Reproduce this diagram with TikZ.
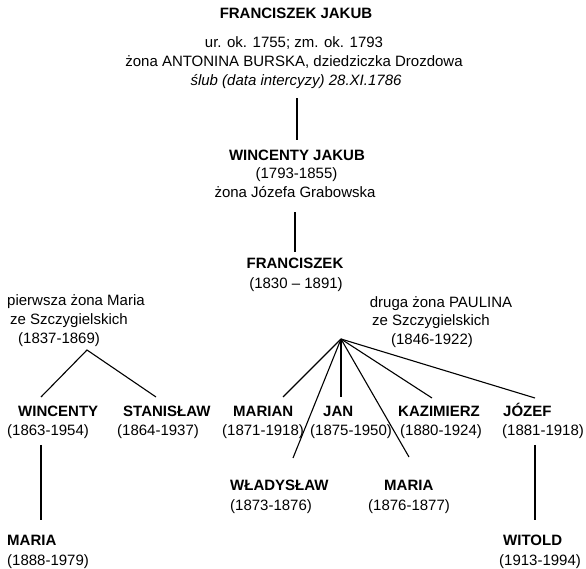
\documentclass[tikz,border=0pt]{standalone}
\usepackage{fontspec}
\setmainfont{Liberation Sans}
\usetikzlibrary{calc}
\begin{document}
\begin{tikzpicture}[x=1pt,y=-1pt,
  txt/.style={inner sep=0pt, font=\fontsize{15}{18}\selectfont},
  nm/.style={inner sep=0pt, font=\fontsize{15}{18}\selectfont\bfseries},
  itx/.style={inner sep=0pt, font=\fontsize{15}{18}\selectfont\itshape},
  lft/.style={anchor=base west},
  ctr/.style={anchor=base},
  link/.style={line width=1.1pt, black}]
\useasboundingbox (0,0) rectangle (586,569);

% top generation
\node[nm,ctr]  (fj)  at (296,18.4) {FRANCISZEK JAKUB};
\node[txt,ctr] (fjA) at (294,48)   {ur. ok. 1755; zm. ok. 1793};
\node[txt,ctr] (fjB) at (294,67)   {żona ANTONINA BURSKA, dziedziczka Drozdowa};
\node[itx,ctr] (fjC) at (296,85.5) {ślub (data intercyzy) 28.XI.1786};

\node[nm,ctr]  (wj)  at (297,160.4) {WINCENTY JAKUB};
\node[txt,ctr] (wjA) at (296.5,178.6) {(1793-1855)};
\node[txt,ctr] (wjB) at (295,197.4) {żona Józefa Grabowska};

\node[nm,ctr]  (fr)  at (295,268.4) {FRANCISZEK};
\node[txt,ctr] (frA) at (296,288.4) {(1830 – 1891)};

% wives
\node[txt,lft] (m1A) at (7,305.4)  {pierwsza żona Maria};
\node[txt,lft] (m1B) at (10,324.4) {ze Szczygielskich};
\node[txt,lft] (m1C) at (18,343.4) {(1837-1869)};

\node[txt,ctr] (m2A) at (441,307.2) {druga żona PAULINA};
\node[txt,ctr] (m2B) at (431,325.4) {ze Szczygielskich};
\node[txt,ctr] (m2C) at (432,344.6) {(1846-1922)};

\coordinate (la) at (87,350);
\coordinate (ra) at (341,339);

% children
\node[nm,lft]  (wN)  at (18,416)   {WINCENTY};
\node[txt,lft] (wD)  at (7,435.8)  {(1863-1954)};
\node[nm,lft]  (sN)  at (123,416)  {STANISŁAW};
\node[txt,lft] (sD)  at (117,435.8) {(1864-1937)};
\node[nm,lft]  (mN)  at (233,416)  {MARIAN};
\node[txt,lft] (mD)  at (222,435.8) {(1871-1918)};
\node[nm,lft]  (jN)  at (323,416)  {JAN};
\node[txt,lft] (jD)  at (310,435.8) {(1875-1950)};
\node[nm,lft]  (kN)  at (398,416)  {KAZIMIERZ};
\node[txt,lft] (kD)  at (400,435.8) {(1880-1924)};
\node[nm,lft]  (oN)  at (503,416)  {JÓZEF};
\node[txt,lft] (oD)  at (502,435.8) {(1881-1918)};

\node[nm,lft]  (vN)  at (230,490.4) {WŁADYSŁAW};
\node[txt,lft] (vD)  at (230,510.4) {(1873-1876)};
\node[nm,lft]  (aN)  at (384,490.4) {MARIA};
\node[txt,lft] (aD)  at (368,510.4) {(1876-1877)};

% grandchildren
\node[nm,lft]  (gN)  at (7,545.4)   {MARIA};
\node[txt,lft] (gD)  at (7,565.2)   {(1888-1979)};
\node[nm,lft]  (tN)  at (503,545.4) {WITOLD};
\node[txt,lft] (tD)  at (499,565.2) {(1913-1994)};

% connectors
\draw[link, shorten <=9.5pt, shorten >=9.7pt] (fjC.south -| wj.north) -- (wj.north);
\draw[link, shorten <=14.6pt, shorten >=5.7pt] (wjB.south) -- (fr.north);

\draw[link] ($(wN.base west)+(23,-19)$) -- (la) -- ($(sN.base west)+(33,-19)$);

\draw[link] (ra) -- ($(mN.base west)+(50,-19)$);
\draw[link] (ra) -- ($(jN.base west)+(18,-19)$);
\draw[link] (ra) -- ($(kN.base west)+(34,-18)$);
\draw[link] (ra) -- ($(oN.base west)+(32,-18)$);
\draw[link] (ra) -- ($(vN.base west)+(63,-32.4)$);
\draw[link] (ra) -- ($(aN.base west)+(25,-33.4)$);

\draw[link] ($(wD.base west)+(34,9)$) -- ($(gN.base west)+(34,-25.4)$);
\draw[link] ($(oD.base west)+(33,9)$) -- ($(tN.base west)+(32,-25.4)$);
\end{tikzpicture}
\end{document}
